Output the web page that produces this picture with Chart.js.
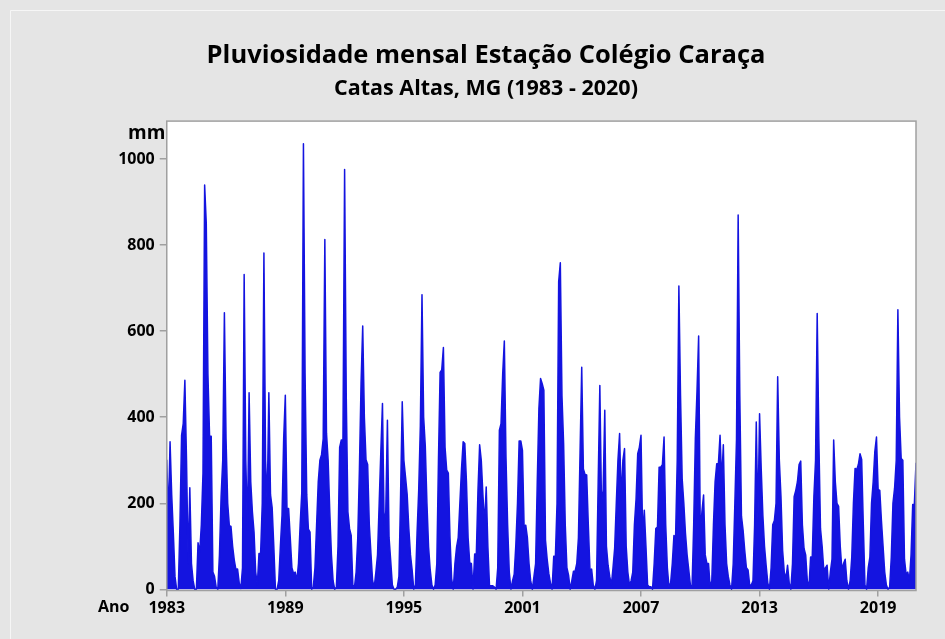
<!DOCTYPE html>
<html>
<head>
<meta charset="utf-8">
<script src="https://cdn.jsdelivr.net/npm/chart.js@4/dist/chart.umd.min.js"></script>
<style>
html,body{margin:0;padding:0;background:#E5E5E5;}
#wrap{position:relative;width:945px;height:639px;overflow:hidden;}
canvas{position:absolute;left:0;top:0;}
.lbl{position:absolute;font-family:'Open Sans',sans-serif;font-weight:700;color:#000;white-space:nowrap;}
</style>
</head>
<body>
<div id="wrap">
<canvas id="c" width="945" height="639"></canvas>
<div class="lbl" style="left:128px;top:119px;font-size:19px;line-height:26px;">mm</div>
<div class="lbl" style="left:98px;top:596px;font-size:16px;line-height:20px;">Ano</div>
</div>
<script>
// Monthly rainfall (mm), Jan..Dec
const r1983 = [301, 168, 343, 220, 130, 30, 0, 0, 150, 358, 385, 486];
const r1984 = [300, 60, 236, 60, 20, 0, 0, 108, 86, 150, 270, 940];
const r1985 = [850, 500, 356, 356, 40, 30, 5, 0, 80, 215, 300, 643];
const r1986 = [350, 200, 148, 146, 100, 68, 46, 47, 15, 2, 50, 732];
const r1987 = [300, 137, 457, 250, 180, 133, 40, 10, 83, 83, 200, 782];
const r1988 = [300, 200, 457, 220, 190, 100, 0, 0, 20, 100, 172, 350];
const r1989 = [451, 188, 188, 120, 50, 37, 40, 20, 60, 150, 225, 1036];
const r1990 = [500, 220, 140, 133, 0, 5, 50, 150, 250, 300, 313, 350];
const r1991 = [813, 363, 300, 180, 80, 20, 0, 5, 100, 330, 347, 347];
const r1992 = [976, 450, 180, 141, 125, 10, 5, 40, 120, 280, 480, 612];
const r1993 = [400, 301, 290, 150, 83, 20, 5, 40, 80, 200, 320, 432];
const r1994 = [150, 180, 393, 120, 66, 10, 0, 0, 5, 30, 220, 436];
const r1995 = [300, 261, 220, 141, 80, 45, 0, 10, 130, 230, 380, 685];
const r1996 = [400, 333, 200, 98, 45, 10, 0, 10, 60, 300, 504, 510];
const r1997 = [562, 330, 277, 270, 120, 25, 0, 60, 98, 120, 200, 280];
const r1998 = [343, 339, 250, 120, 61, 60, 0, 82, 82, 230, 336, 300];
const r1999 = [219, 150, 238, 100, 8, 8, 8, 5, 0, 50, 370, 385];
const r2000 = [500, 577, 308, 150, 40, 0, 20, 35, 104, 200, 345, 345];
const r2001 = [323, 146, 149, 120, 60, 20, 0, 30, 60, 250, 420, 490];
const r2002 = [478, 463, 114, 70, 37, 15, 0, 77, 75, 200, 715, 759];
const r2003 = [450, 339, 150, 50, 33, 0, 20, 42, 42, 60, 120, 320];
const r2004 = [516, 280, 267, 266, 150, 45, 47, 10, 0, 20, 250, 474];
const r2005 = [200, 230, 416, 100, 56, 30, 10, 50, 95, 200, 300, 362];
const r2006 = [207, 300, 327, 100, 40, 10, 20, 40, 150, 210, 315, 330];
const r2007 = [358, 125, 184, 100, 10, 6, 6, 0, 60, 141, 145, 284];
const r2008 = [284, 290, 354, 150, 50, 5, 15, 60, 125, 121, 300, 705];
const r2009 = [450, 257, 200, 130, 80, 45, 10, 5, 150, 350, 460, 589];
const r2010 = [130, 180, 219, 80, 60, 60, 5, 20, 150, 250, 292, 292];
const r2011 = [358, 250, 336, 150, 60, 30, 10, 0, 60, 200, 350, 870];
const r2012 = [450, 170, 137, 90, 50, 45, 10, 10, 20, 150, 389, 160];
const r2013 = [408, 280, 172, 100, 55, 15, 0, 50, 150, 160, 200, 494];
const r2014 = [300, 215, 90, 40, 25, 56, 15, 0, 60, 215, 230, 250];
const r2015 = [290, 298, 150, 95, 80, 20, 5, 75, 75, 216, 300, 641];
const r2016 = [350, 141, 100, 45, 50, 56, 0, 40, 70, 347, 250, 200];
const r2017 = [193, 100, 45, 60, 70, 20, 0, 20, 75, 200, 281, 278];
const r2018 = [290, 315, 302, 150, 10, 0, 50, 75, 200, 250, 320, 354];
const r2019 = [232, 230, 160, 100, 40, 10, 0, 5, 75, 200, 235, 300];
const r2020 = [650, 400, 304, 300, 70, 35, 40, 20, 80, 197, 197, 294];

const yearSeries = [r1983, r1984, r1985, r1986, r1987, r1988, r1989, r1990, r1991, r1992,
  r1993, r1994, r1995, r1996, r1997, r1998, r1999, r2000, r2001, r2002, r2003, r2004,
  r2005, r2006, r2007, r2008, r2009, r2010, r2011, r2012, r2013, r2014, r2015, r2016,
  r2017, r2018, r2019, r2020];

const xTickPositions = [0, 72, 144, 216, 288, 360, 432]; // month index of January
const xTickLabels = ['1983', '1989', '1995', '2001', '2007', '2013', '2019'];
const yTicks = [0, 200, 400, 600, 800, 1000];

const titleText = 'Pluviosidade mensal Estação Colégio Caraça';
const subtitleText = 'Catas Altas, MG (1983 - 2020)';

const monthly = [].concat(...yearSeries);
const points = monthly.map((v, i) => ({x: i, y: v}));

const BLUE = '#1414E0';
const FRAME = '#A0A0A0';

const bgPlugin = {
  id: 'bgPlugin',
  beforeDraw(chart) {
    const {ctx, chartArea: a} = chart;
    ctx.save();
    ctx.fillStyle = '#E5E5E5';
    ctx.fillRect(0, 0, chart.width, chart.height);
    ctx.strokeStyle = '#F6F6F6';
    ctx.lineWidth = 1;
    ctx.beginPath();
    ctx.moveTo(10.5, chart.height);
    ctx.lineTo(10.5, 10.5);
    ctx.lineTo(chart.width, 10.5);
    ctx.stroke();
    ctx.fillStyle = '#FFFFFF';
    ctx.fillRect(a.left, a.top, a.right - a.left, a.bottom - a.top);
    ctx.restore();
  },
  afterDatasetsDraw(chart) {
    const {ctx, chartArea: a} = chart;
    ctx.save();
    ctx.strokeStyle = FRAME;
    ctx.lineWidth = 1.5;
    ctx.strokeRect(a.left, a.top, a.right - a.left, a.bottom - a.top);
    ctx.restore();
  }
};

const tickFont = {family: "'Open Sans', sans-serif", size: 16, weight: 'bold'};

new Chart(document.getElementById('c'), {
  type: 'line',
  data: {
    datasets: [{
      data: points,
      borderColor: BLUE,
      backgroundColor: BLUE,
      borderWidth: 1.5,
      borderJoinStyle: 'round',
      pointRadius: 0,
      tension: 0,
      fill: 'origin'
    }]
  },
  options: {
    responsive: false,
    animation: false,
    devicePixelRatio: 1,
    layout: {padding: {left: 56, right: 29, top: 0, bottom: 18}},
    plugins: {
      legend: {display: false},
      tooltip: {enabled: false},
      title: {
        display: true, text: titleText, color: '#000',
        font: {family: "'Open Sans', sans-serif", size: 25.5, weight: 'bold'},
        padding: {top: 40, bottom: 2.6}
      },
      subtitle: {
        display: true, text: subtitleText, color: '#000',
        font: {family: "'Open Sans', sans-serif", size: 21.5, weight: 'bold'},
        padding: {top: 2.6, bottom: 19.5}
      }
    },
    scales: {
      x: {
        type: 'linear', min: 0, max: 455,
        afterBuildTicks: s => { s.ticks = xTickPositions.map(v => ({value: v})); },
        afterFit: s => { s.height = 30.5; },
        ticks: {
          autoSkip: false, maxRotation: 0, color: '#000', font: tickFont, padding: 2,
          callback: v => xTickLabels[xTickPositions.indexOf(v)]
        },
        grid: {display: true, drawOnChartArea: false, drawTicks: true, tickLength: 6, color: FRAME, lineWidth: 1.5},
        border: {display: false}
      },
      y: {
        type: 'linear', min: -2.8, max: 1088.4,
        afterBuildTicks: s => { s.ticks = yTicks.map(v => ({value: v})); },
        afterFit: s => { s.width = 110.76; },
        ticks: {color: '#000', font: tickFont, padding: 5, callback: v => String(v)},
        grid: {display: true, drawOnChartArea: false, drawTicks: true, tickLength: 7, color: FRAME, lineWidth: 1.5},
        border: {display: false}
      }
    }
  },
  plugins: [bgPlugin]
});
</script>
</body>
</html>
